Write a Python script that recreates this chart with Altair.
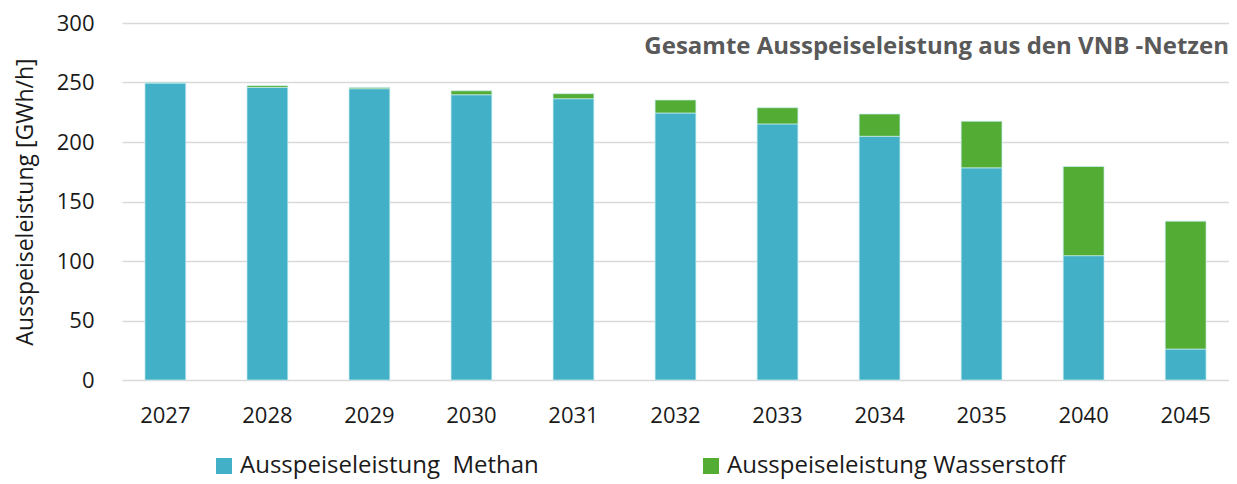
import altair as alt
import pandas as pd

years = ["2027", "2028", "2029", "2030", "2031", "2032", "2033", "2034", "2035", "2040", "2045"]
methan = [249.5, 245.8, 244.8, 239.7, 236.4, 224.4, 215.2, 204.8, 178.3, 104.5, 26.0]
wasserstoff = [0.6, 1.5, 1.0, 3.3, 4.2, 10.9, 13.6, 18.7, 39.1, 74.9, 107.5]
series = ["Ausspeiseleistung \u00a0Methan", "Ausspeiseleistung Wasserstoff"]
colors = ["#42B1C7", "#53AC34"]

rows = []
for i, y in enumerate(years):
    rows.append({"Jahr": y, "Serie": series[0], "Wert": methan[i], "ord": 0})
    rows.append({"Jahr": y, "Serie": series[1], "Wert": wasserstoff[i], "ord": 1})
df = pd.DataFrame(rows)

FONT = "Open Sans"

chart = alt.Chart(df).mark_bar(stroke="#c8ecf0", strokeWidth=0.7).encode(
    x=alt.X("Jahr:N", sort=years, title=None,
            scale=alt.Scale(paddingInner=0.6, paddingOuter=0.225),
            axis=alt.Axis(labelAngle=0, labelFontSize=22, labelColor="#1a1a1a",
                          labelPadding=25, ticks=False, domain=False, grid=False,
                          labelFont=FONT)),
    y=alt.Y("Wert:Q", stack="zero", title="Ausspeiseleistung [GWh/h]",
            scale=alt.Scale(domain=[0, 300], nice=False),
            axis=alt.Axis(values=[0, 50, 100, 150, 200, 250, 300], ticks=False, domain=False,
                          gridColor="#d9d9d9", gridWidth=1.5, labelFontSize=22,
                          labelColor="#1a1a1a", labelPadding=28, labelFont=FONT,
                          titleFont=FONT, titleFontSize=23, titleFontWeight="normal",
                          titleColor="#1a1a1a", titlePadding=19)),
    color=alt.Color("Serie:N", scale=alt.Scale(domain=series, range=colors),
                    legend=alt.Legend(title=None, orient="none", direction="horizontal",
                                      legendX=90, legendY=431, symbolType="square",
                                      symbolSize=256, symbolStrokeWidth=0, labelFontSize=24,
                                      labelFont=FONT, labelColor="#1a1a1a", labelOffset=4,
                                      columnPadding=160, labelLimit=500)),
    order=alt.Order("ord:Q"),
).properties(
    width=1107,
    height=357,
    padding={"left": 114, "top": 15, "right": 0, "bottom": 103},
    autosize=alt.AutoSizeParams(type="none"),
    title=alt.TitleParams("Gesamte Ausspeiseleistung aus den VNB -Netzen", anchor="end",
                          orient="top", fontSize=24, fontWeight="bold", color="#595959",
                          font=FONT, dy=51, dx=0),
).configure_view(stroke=None)

chart.save("out.html", embed_options={"renderer": "svg", "actions": False})
